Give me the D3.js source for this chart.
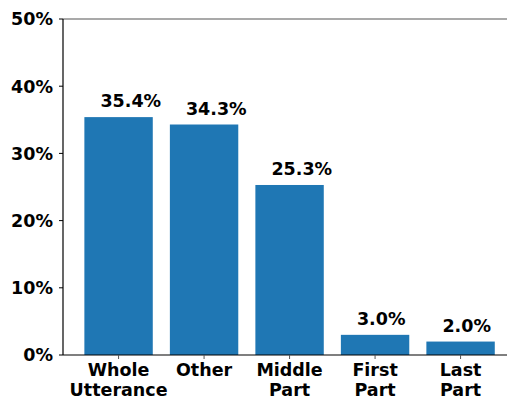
<!DOCTYPE html>
<head>
<meta charset="utf-8">
<style>
  body { margin: 0; background: #fff; }
  text { font-family: "DejaVu Sans", sans-serif; font-weight: bold; }
</style>
</head>
<body>
<svg width="507" height="401"></svg>
<script src="https://d3js.org/d3.v7.min.js"></script>
<script>

// data
var categories = [['Whole', 'Utterance'], ['Other'], ['Middle', 'Part'], ['First', 'Part'], ['Last', 'Part']];
var shares = [35.4, 34.3, 25.3, 3.0, 2.0];
var yTicks = [0, 10, 20, 30, 40, 50];

var svg = d3.select('svg');

// note: "top" is taken by window.top, so use plot* names
var plotLeft = 63, plotTop = 19, plotBottom = 355;
var step = 85.5;
var fontSize = 17.5;

// band positions: first center sits 0.65 step from the left spine
var x = d3.scaleLinear().domain([-0.65, 4.65]).range([plotLeft, plotLeft + step * 5.3]);
var y = d3.scaleLinear().domain([0, 50]).range([plotBottom, plotTop]);

var barW = step * 0.8;

// top spine (gray), right side runs past the window
svg.append('line')
    .attr('x1', plotLeft).attr('x2', 507)
    .attr('y1', plotTop).attr('y2', plotTop)
    .attr('stroke', '#555').attr('stroke-width', 1.2);

// bars
svg.selectAll('rect.bar')
    .data(shares)
    .enter().append('rect')
        .attr('class', 'bar')
        .attr('x', (d, i) => x(i) - barW / 2)
        .attr('y', d => y(d))
        .attr('width', barW)
        .attr('height', d => plotBottom - y(d))
        .attr('fill', '#1f77b4');

// value labels, left aligned a bit inside the bar
svg.selectAll('text.val')
    .data(shares)
    .enter().append('text')
        .attr('class', 'val')
        .attr('x', (d, i) => x(i) - barW / 2 + 16)
        .attr('y', d => y(d) - 10)
        .attr('text-anchor', 'start')
        .attr('font-size', fontSize)
        .attr('fill', '#000')
        .text(d => d.toFixed(1) + '%');

// y axis
var yAxis = svg.append('g');
yAxis.append('line')
    .attr('x1', plotLeft).attr('x2', plotLeft)
    .attr('y1', plotTop).attr('y2', plotBottom)
    .attr('stroke', '#000').attr('stroke-width', 1.2);
var yt = yAxis.selectAll('g.tick')
    .data(yTicks)
    .enter().append('g')
        .attr('transform', d => `translate(${plotLeft},${y(d)})`);
yt.append('line').attr('x1', -4).attr('x2', 0).attr('stroke', '#000').attr('stroke-width', 1);
yt.append('text')
    .attr('x', -10)
    .attr('dy', '0.36em')
    .attr('text-anchor', 'end')
    .attr('font-size', fontSize)
    .attr('fill', '#000')
    .text(d => d + '%');

// x axis
var xAxis = svg.append('g');
xAxis.append('line')
    .attr('x1', plotLeft).attr('x2', 507)
    .attr('y1', plotBottom).attr('y2', plotBottom)
    .attr('stroke', '#000').attr('stroke-width', 1.2);
var xt = xAxis.selectAll('g.tick')
    .data(categories)
    .enter().append('g')
        .attr('transform', (d, i) => `translate(${x(i)},${plotBottom})`);
xt.append('line').attr('y1', 0).attr('y2', 4).attr('stroke', '#555').attr('stroke-width', 1);
xt.append('text')
    .attr('text-anchor', 'middle')
    .attr('font-size', fontSize)
    .attr('fill', '#000')
    .selectAll('tspan')
    .data(d => d)
    .enter().append('tspan')
        .attr('x', 0)
        .attr('y', (d, i) => 21 + i * 20)
        .text(d => d);

</script>
</body>
